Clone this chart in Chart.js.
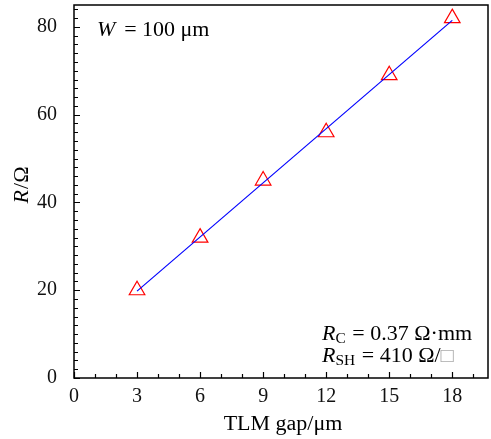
<!DOCTYPE html>
<html>
<head>
<meta charset="utf-8">
<script src="https://cdn.jsdelivr.net/npm/chart.js@4"></script>
<style>
  html, body { margin: 0; padding: 0; background: #fff; }
</style>
</head>
<body>
<canvas id="chart1" width="491" height="439"></canvas>
<script>
// measured points
const gapValues = [3, 6, 9, 12, 15, 18];
const resistanceValues = [20, 32, 45, 56, 69, 82];
const fitGap = [3, 18];
const fitResistance = [19.8, 81.5];
// axes
const xTickValues = [0, 3, 6, 9, 12, 15, 18];
const yTickValues = [0, 20, 40, 60, 80];
const xRange = [0, 19.7];
const yRange = [0, 85];

const serif = '"Liberation Serif", "DejaVu Serif", serif';
const stretch = 1.1; // the original uses a wider TeX face

// draws a row of text pieces with different fonts (italic symbols, subscripts)
function drawRuns(ctx, runs, x, y, align) {
  let total = 0;
  runs.forEach(r => { ctx.font = r.font; total += ctx.measureText(r.t).width + (r.dx || 0); });
  total *= stretch;
  const x0 = align === 'right' ? x - total : align === 'center' ? x - total / 2 : x;
  ctx.save();
  ctx.translate(x0, y);
  ctx.scale(stretch, 1);
  ctx.textAlign = 'left';
  ctx.textBaseline = 'alphabetic';
  let cx = 0;
  runs.forEach(r => {
    ctx.font = r.font;
    ctx.fillStyle = r.color || '#000';
    ctx.fillText(r.t, cx + (r.dx || 0), r.dy || 0);
    cx += ctx.measureText(r.t).width + (r.dx || 0);
  });
  ctx.restore();
}

const rm = '20px ' + serif;
const itF = 'italic 20px ' + serif;
const subF = '14px ' + serif;

const framePlugin = {
  id: 'framePlugin',
  afterDraw(chart) {
    const { ctx, chartArea: a, scales: { x, y } } = chart;
    ctx.save();
    ctx.strokeStyle = '#000';
    ctx.lineWidth = 1.5;
    ctx.strokeRect(a.left, a.top, a.right - a.left, a.bottom - a.top);

    // inward ticks, major and minor
    ctx.lineWidth = 1.2;
    ctx.beginPath();
    for (let v = 0; v <= x.max; v += 1) {
      const px = Math.round(x.getPixelForValue(v)) + 0.5;
      const len = v % 3 === 0 ? 6 : 4;
      ctx.moveTo(px, a.bottom);
      ctx.lineTo(px, a.bottom - len);
    }
    for (let v = 0; v <= y.max; v += 2) {
      const py = Math.round(y.getPixelForValue(v)) + 0.5;
      const len = v % 20 === 0 ? 6 : 4;
      ctx.moveTo(a.left, py);
      ctx.lineTo(a.left + len, py);
    }
    ctx.stroke();

    // axis titles
    drawRuns(ctx, [{ t: 'TLM gap/μm', font: rm }], (a.left + a.right) / 2 + 2, 430, 'center');
    ctx.save();
    ctx.translate(28, 185);
    ctx.rotate(-Math.PI / 2);
    drawRuns(ctx, [{ t: 'R', font: itF }, { t: '/Ω', font: rm, dx: 1 }], 0, 0, 'center');
    ctx.restore();

    // annotations
    drawRuns(ctx, [{ t: 'W', font: itF }, { t: ' = 100 μm', font: rm, dx: 3 }], 97, 36, 'left');
    drawRuns(ctx, [
      { t: 'R', font: itF }, { t: 'C', font: subF, dy: 3 },
      { t: ' = 0.37 Ω·mm', font: rm, dx: 1 }
    ], 322, 340, 'left');
    drawRuns(ctx, [
      { t: 'R', font: itF }, { t: 'SH', font: subF, dy: 3 },
      { t: ' = 410 Ω/', font: rm, dx: 1 }, { t: '□', font: rm, color: '#aaa' }
    ], 322, 362, 'left');
    ctx.restore();
  }
};

new Chart(document.getElementById('chart1'), {
  data: {
    datasets: [
      {
        type: 'line',
        data: fitGap.map((g, i) => ({ x: g, y: fitResistance[i] })),
        borderColor: '#0000ff',
        borderWidth: 1.2,
        pointRadius: 0,
        fill: false
      },
      {
        type: 'scatter',
        data: gapValues.map((g, i) => ({ x: g, y: resistanceValues[i] })),
        pointStyle: 'triangle',
        pointRadius: 9,
        borderColor: '#ff0000',
        backgroundColor: 'rgba(0,0,0,0)',
        borderWidth: 1.2
      }
    ]
  },
  options: {
    responsive: false,
    animation: false,
    layout: { autoPadding: false, padding: { top: 5, right: 3, left: 0, bottom: 0 } },
    plugins: { legend: { display: false }, tooltip: { enabled: false } },
    scales: {
      x: {
        type: 'linear',
        min: xRange[0],
        max: xRange[1],
        grid: { display: false },
        border: { display: false },
        afterBuildTicks: s => { s.ticks = xTickValues.map(v => ({ value: v })); },
        afterFit: s => { s.height = 61; s.paddingLeft = 0; s.paddingRight = 0; },
        ticks: { padding: -1, color: '#111', font: { family: serif, size: 20 } }
      },
      y: {
        type: 'linear',
        min: yRange[0],
        max: yRange[1],
        grid: { display: false },
        border: { display: false },
        afterBuildTicks: s => { s.ticks = yTickValues.map(v => ({ value: v })); },
        afterFit: s => { s.width = 74; s.paddingTop = 0; s.paddingBottom = 0; },
        ticks: { padding: 9, color: '#111', font: { family: serif, size: 20 } }
      }
    }
  },
  plugins: [framePlugin]
});
</script>
</body>
</html>
